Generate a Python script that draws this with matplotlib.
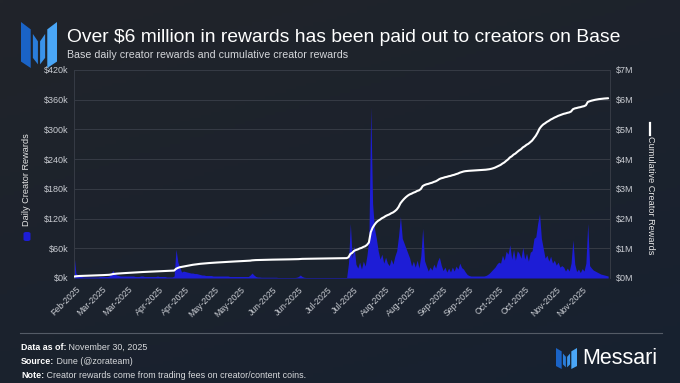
import numpy as np
import pandas as pd
import matplotlib
matplotlib.use("Agg")
import matplotlib.pyplot as plt
import matplotlib.dates as mdates
from matplotlib.patches import Polygon, FancyBboxPatch
from matplotlib.lines import Line2D

plt.rcParams['font.family'] = ['Liberation Sans', 'DejaVu Sans']

# ---------------- data ----------------
start_date = "2025-02-14"
axis_end_date = "2025-11-30"

# Daily creator rewards, thousands of USD (one value per day from start_date)
daily_k = [
    48, 10, 6, 4, 3, 2, 2, 2, 2, 2,
    2, 2, 2, 2, 3, 3, 3, 3, 3, 4,
    10, 15, 8, 6, 5, 4, 4, 4, 4, 4,
    4, 4, 4, 3, 3, 3, 4, 4, 3, 3,
    3, 3, 3, 3, 3, 4, 3, 3, 3, 3,
    2, 2, 2, 2, 4, 58, 32, 22, 12, 14,
    13, 12, 11, 10, 10, 9, 9, 8, 7, 6,
    6, 5, 5, 5, 5, 4, 4, 4, 4, 4,
    4, 4, 4, 4, 3, 3, 3, 3, 3, 3,
    3, 3, 3, 3, 3, 6, 10, 6, 3, 2,
    2, 1.5, 1.5, 1.5, 1.5, 1.5, 1.5, 1.5, 1.5, 1.5,
    1, 1, 1, 1, 1, 1, 1, 1, 1, 1,
    1.5, 3, 6, 3, 1.5, 1, 1, 1, 1, 1,
    1, 1, 1, 1, 1, 1, 1, 1, 1, 1,
    1, 1, 1, 1, 1, 1, 1, 1, 30, 110,
    40, 65, 28, 20, 32, 18, 34, 24, 47, 80,
    345, 150, 100, 80, 55, 38, 48, 30, 42, 30,
    25, 38, 28, 44, 55, 85, 124, 80, 70, 60,
    50, 40, 24, 34, 22, 36, 20, 45, 100, 35,
    24, 14, 22, 16, 28, 20, 34, 42, 26, 15,
    22, 12, 20, 12, 22, 14, 24, 18, 30, 21,
    18, 12, 7, 5, 4, 4, 4, 4, 4, 4,
    4, 4, 5, 7, 10, 14, 18, 22, 28, 32,
    30, 46, 36, 54, 48, 67, 38, 58, 36, 55,
    50, 40, 62, 38, 50, 34, 52, 55, 80, 83,
    110, 130, 80, 60, 40, 46, 34, 44, 30, 36,
    26, 32, 22, 25, 22, 14, 20, 14, 30, 77,
    28, 13, 18, 11, 19, 14, 30, 110, 25, 20,
    16, 14, 12, 10, 8, 7, 6, 5, 4,
]

left_ticks_k = [0, 60, 120, 180, 240, 300, 360, 420]
left_tick_labels = ["$0k", "$60k", "$120k", "$180k", "$240k", "$300k", "$360k", "$420k"]
right_ticks_m = [0, 1, 2, 3, 4, 5, 6, 7]
right_tick_labels = ["$0M", "$1M", "$2M", "$3M", "$4M", "$5M", "$6M", "$7M"]

title = "Over $6 million in rewards has been paid out to creators on Base"
subtitle = "Base daily creator rewards and cumulative creator rewards"
left_label = "Daily Creator Rewards"
right_label = "Cumulative Creator Rewards"
footer = [("Data as of:", " November 30, 2025"),
          ("Source:", " Dune (@zorateam)"),
          ("Note:", " Creator rewards come from trading fees on creator/content coins.")]

dates = pd.date_range(start_date, periods=len(daily_k), freq="D")
daily = np.array(daily_k, dtype=float)
cumulative_m = np.cumsum(daily) / 1000.0

# ---------------- figure ----------------
W, H = 680, 383
fig = plt.figure(figsize=(W / 100, H / 100), dpi=100)

def fx(x):
    return x / W

def fy(y):
    return 1 - y / H

# background gradient
bg = fig.add_axes([0, 0, 1, 1], zorder=-10)
bg.axis("off")
gx = np.linspace(0, 1, 200)
gy = np.linspace(0, 1, 120)
GX, GY = np.meshgrid(gx, gy)
c1 = np.array([0x21, 0x24, 0x2a]) / 255
c2 = np.array([0x17, 0x21, 0x30]) / 255
t = np.clip(0.35 * GX + 0.65 * GY, 0, 1)
img = c1[None, None, :] * (1 - t[..., None]) + c2[None, None, :] * t[..., None]
bg.imshow(img, extent=[0, 1, 0, 1], aspect="auto", origin="upper")
bg.set_xlim(0, 1)
bg.set_ylim(0, 1)

BLUE = "#1d1dd6"
TICK_C = "#c9ccd2"
GRID_C = "#363b45"

ax = fig.add_axes([fx(74), fy(278), fx(610) - fx(74), (278 - 70) / H])
ax.set_facecolor("none")
ax2 = ax.twinx()

ax.fill_between(dates, daily, 0, color=BLUE, lw=0, zorder=2)
ax2.plot(dates, cumulative_m, color="white", lw=1.5, solid_capstyle="round", zorder=3)

ax.set_xlim(pd.Timestamp(start_date), pd.Timestamp(axis_end_date))
ax.set_ylim(0, 420)
ax2.set_ylim(0, 7)

ax.set_yticks(left_ticks_k)
ax.set_yticklabels(left_tick_labels)
ax2.set_yticks(right_ticks_m)
ax2.set_yticklabels(right_tick_labels)

ax.yaxis.grid(True, color=GRID_C, lw=0.7)
ax.set_axisbelow(True)

for a in (ax, ax2):
    for s in a.spines.values():
        s.set_visible(False)
ax.spines["left"].set_visible(True)
ax.spines["left"].set_color(GRID_C)
ax.spines["left"].set_linewidth(0.7)
ax.spines["right"].set_visible(True)
ax.spines["right"].set_color(GRID_C)
ax.spines["right"].set_linewidth(0.7)

ax.tick_params(axis="y", length=0, pad=4, labelcolor=TICK_C, labelsize=6.5)
ax2.tick_params(axis="y", length=0, pad=4, labelcolor=TICK_C, labelsize=6.5)

ax.xaxis.set_major_locator(mdates.DayLocator(bymonthday=[1, 15]))
ax.xaxis.set_major_formatter(mdates.DateFormatter("%b-%Y"))
ax.tick_params(axis="x", length=0, pad=5, labelcolor=TICK_C, labelsize=6.3)
for lab in ax.get_xticklabels():
    lab.set_rotation(45)
    lab.set_ha("right")
    lab.set_rotation_mode("anchor")

# axis titles with legend keys
fig.text(fx(27), fy(180), left_label, rotation=90, ha="center", va="center",
         color="#e6e6e6", fontsize=6.6)
fig.patches.append(FancyBboxPatch((fx(23.5), fy(241)), fx(7), 9 / H,
                                  boxstyle="round,pad=0,rounding_size=0.004",
                                  transform=fig.transFigure, color=BLUE, lw=0))
fig.text(fx(650), fy(195), right_label, rotation=270, ha="center", va="center",
         color="#e6e6e6", fontsize=6.6)
fig.add_artist(Line2D([fx(650), fx(650)], [fy(123), fy(135)], color="white", lw=1.6,
                      transform=fig.transFigure))

# title & subtitle
fig.text(fx(67), fy(37), title, ha="left", va="center", color="white", fontsize=13.9)
fig.text(fx(67), fy(55), subtitle, ha="left", va="center", color="#d4d6da", fontsize=7.7)

# logo helper
def draw_logo(x0, y0, w, h):
    shapes = [
        ([(0, 0), (0.27, 0.16), (0.27, 1.0), (0, 0.86)], "#1a63c6"),
        ([(0.33, 0.26), (0.47, 0.42), (0.47, 0.92), (0.33, 0.78)], "#2a7dda"),
        ([(0.53, 0.42), (0.67, 0.26), (0.67, 0.78), (0.53, 0.92)], "#3a93ea"),
        ([(0.73, 0.16), (1.0, 0), (1.0, 0.86), (0.73, 1.0)], "#4aa6f6"),
    ]
    for pts, col in shapes:
        P = [(fx(x0 + px * w), fy(y0 + py * h)) for px, py in pts]
        fig.patches.append(Polygon(P, closed=True, transform=fig.transFigure,
                                   facecolor=col, edgecolor="none"))

draw_logo(21, 22, 36, 46)

# footer
fig.add_artist(Line2D([fx(20), fx(662)], [fy(333), fy(333)], color="#545b66", lw=0.8,
                      transform=fig.transFigure))
renderer = fig.canvas.get_renderer()
for i, (b, n) in enumerate(footer):
    yy = fy(347 + i * 14)
    tb = fig.text(fx(21), yy, b, ha="left", va="center", color="white",
                  fontsize=6.4, fontweight="bold")
    ext = tb.get_window_extent(renderer=renderer)
    fig.text(ext.x1 / W, yy, n, ha="left", va="center", color="#d8dadd", fontsize=6.4)

draw_logo(556, 348, 21, 21)
fig.text(fx(582), fy(358), "Messari", ha="left", va="center", color="white", fontsize=15.5)

fig.savefig("out.png", dpi=100)
